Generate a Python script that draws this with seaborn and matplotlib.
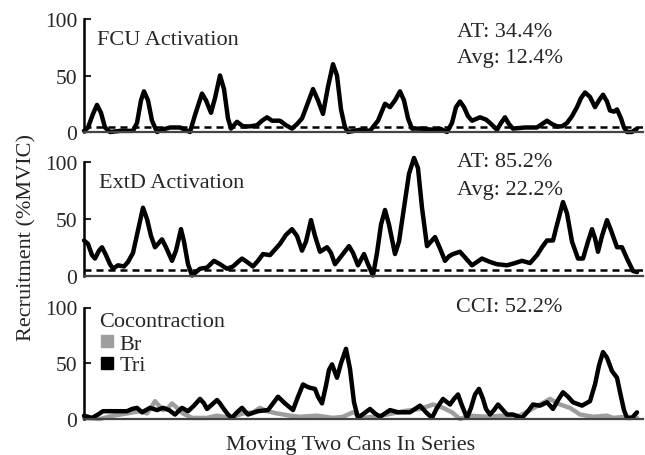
import numpy as np
import pandas as pd
import matplotlib
matplotlib.use("Agg")
import matplotlib.pyplot as plt
from matplotlib.lines import Line2D
import seaborn as sns

# ---- recorded EMG recruitment (%MVIC) over the task, by frame ----
fcu_frame = [84, 88, 93, 97, 101, 105, 110, 120, 133, 137, 141, 144, 148, 152, 157, 162, 170, 180,
             190, 195, 202, 206, 211, 215, 220, 224, 228, 231, 237, 243, 250, 257, 262, 267, 272,
             276, 280, 286, 292, 297, 302, 308, 313, 318, 323, 328, 333, 337, 341, 345, 348, 360,
             370, 378, 385, 390, 395, 400, 404, 408, 412, 420, 433, 440, 447, 452, 456, 460, 464,
             468, 472, 480, 486, 490, 497, 501, 505, 509, 513, 525, 537, 542, 547, 552, 557, 562,
             567, 572, 577, 581, 585, 590, 595, 599, 603, 607, 610, 614, 617, 621, 624, 627, 632, 637]
fcu_value = [1, 4, 16, 24, 17, 4, 0, 1, 1, 8, 28, 36, 28, 10, 0, 2, 4, 4,
             0, 15, 34, 28, 17, 30, 50, 38, 12, 3, 9, 5, 5, 6, 10, 13, 10,
             10, 10, 6, 3, 7, 12, 26, 38, 28, 16, 40, 60, 50, 20, 4, 0, 2,
             1, 10, 25, 22, 28, 36, 28, 12, 3, 3, 2, 3, 0, 8, 22, 27, 22,
             14, 10, 13, 11, 8, 2, 8, 13, 7, 3, 4, 4, 7, 10, 7, 5, 5,
             8, 14, 22, 30, 35, 31, 22, 28, 33, 27, 19, 18, 20, 12, 4, 0, 0, 3]

extd_frame = [84, 88, 92, 95, 99, 102, 106, 110, 113, 118, 124, 128, 133, 138, 143, 147, 151, 155,
              159, 162, 166, 172, 176, 181, 184, 188, 192, 196, 200, 207, 214, 220, 227, 233, 238,
              242, 247, 253, 258, 263, 270, 275, 280, 286, 292, 297, 302, 306, 311, 315, 320, 327,
              331, 335, 342, 349, 353, 358, 364, 368, 373, 377, 381, 385, 389, 395, 399, 404, 409,
              414, 418, 422, 427, 431, 435, 440, 445, 449, 453, 460, 466, 472, 477, 482, 490, 497,
              507, 515, 522, 530, 537, 542, 547, 553, 557, 563, 567, 572, 578, 583, 588, 592, 595,
              598, 602, 607, 611, 617, 622, 627, 633, 637]
extd_value = [31, 28, 18, 15, 22, 25, 18, 10, 6, 9, 8, 12, 20, 40, 60, 50, 35, 25,
              29, 32, 25, 13, 22, 41, 30, 10, 0, 3, 6, 7, 13, 10, 6, 8, 12,
              15, 12, 8, 13, 19, 18, 23, 28, 36, 41, 35, 22, 30, 49, 35, 21, 25,
              20, 10, 18, 26, 20, 9, 19, 10, 0, 20, 45, 58, 45, 19, 30, 60, 90,
              104, 95, 60, 26, 30, 34, 24, 13, 17, 19, 21, 15, 9, 12, 15, 12, 10,
              9, 11, 13, 11, 18, 25, 31, 31, 45, 65, 55, 30, 15, 15, 30, 41, 33,
              21, 35, 49, 40, 25, 25, 15, 4, 3]

tri_frame = [84, 92, 98, 103, 113, 127, 132, 137, 142, 150, 157, 163, 169, 175, 182, 188, 194, 200,
             204, 207, 212, 217, 220, 223, 228, 232, 237, 242, 248, 258, 268, 273, 278, 285, 293,
             298, 303, 307, 310, 315, 318, 322, 326, 329, 332, 337, 341, 346, 350, 354, 358, 364,
             370, 375, 380, 385, 390, 398, 410, 415, 420, 426, 432, 437, 443, 450, 454, 458, 462,
             467, 471, 475, 479, 483, 486, 490, 494, 498, 502, 507, 513, 522, 528, 533, 540, 547,
             553, 558, 563, 568, 573, 582, 590, 595, 599, 603, 607, 612, 617, 621, 624, 627, 632, 637]
tri_value = [3, 1, 4, 7, 7, 7, 9, 10, 6, 10, 8, 10, 8, 4, 10, 7, 12, 18,
             14, 9, 13, 17, 14, 10, 4, 1, 6, 10, 4, 7, 8, 14, 20, 14, 8,
             20, 31, 29, 28, 27, 20, 14, 30, 44, 49, 37, 50, 63, 45, 15, 1, 5,
             9, 5, 2, 5, 8, 6, 6, 9, 12, 6, 1, 10, 18, 13, 18, 22, 12,
             1, 10, 22, 27, 18, 9, 4, 8, 13, 9, 4, 4, 1, 7, 13, 12, 15,
             9, 17, 24, 20, 15, 12, 16, 31, 48, 60, 55, 43, 37, 20, 8, 1, 1, 6]

br_frame = [84, 100, 113, 127, 140, 147, 151, 155, 159, 163, 168, 172, 177, 183, 192, 207, 217, 230,
            243, 253, 260, 267, 277, 290, 300, 317, 333, 343, 353, 363, 373, 387, 403, 420, 433,
            443, 452, 460, 470, 487, 503, 520, 530, 540, 550, 560, 570, 580, 593, 607, 613, 627, 637]
br_value = [1, 0, 3, 5, 7, 5, 10, 16, 12, 8, 10, 14, 10, 5, 1, 1, 3, 1,
            5, 6, 10, 7, 5, 3, 2, 3, 1, 2, 6, 1, 2, 4, 7, 9, 13,
            10, 6, 0, 3, 2, 3, 3, 8, 13, 18, 13, 10, 4, 2, 3, 1, 2, 1]

activation_threshold = 4.5
panel_titles = ["FCU Activation", "ExtD Activation", "Cocontraction"]
panel_stats = [["AT: 34.4%", "Avg: 12.4%"], ["AT: 85.2%", "Avg: 22.2%"], ["CCI: 52.2%"]]
legend_labels = ["Br", "Tri"]
y_ticks = [0, 50, 100]
x_label = "Moving Two Cans In Series"
y_label = "Recruitment (%MVIC)"

sns.set_style("white")
plt.rcParams["font.family"] = ["Liberation Serif", "DejaVu Serif"]

FS = 15.5
FS_TXT = 16
GRAY = "#9e9e9e"
W, H = 645, 456
fig = plt.figure(figsize=(W / 100, H / 100), dpi=100)

# axes boxes in figure pixels: (left, right, top at 100, bottom at 0)
boxes = [(84, 643, 20, 133), (84, 643, 163.5, 276.5), (84, 643, 308.5, 420)]
axes = []
for (l, r, t, b) in boxes:
    ax = fig.add_axes([l / W, 1 - b / H, (r - l) / W, (b - t) / H])
    axes.append(ax)

series = [
    [(fcu_frame, fcu_value, "black")],
    [(extd_frame, extd_value, "black")],
    [(br_frame, br_value, GRAY), (tri_frame, tri_value, "black")],
]

for i, ax in enumerate(axes):
    for frames, vals, col in series[i]:
        df = pd.DataFrame({"frame": frames, "value": vals})
        sns.lineplot(data=df, x="frame", y="value", ax=ax, color=col, lw=3.2,
                     estimator=None, sort=False, clip_on=False,
                     solid_joinstyle="round", solid_capstyle="round")
    if i < 2:
        ax.axhline(activation_threshold, color="black", lw=1.8,
                   linestyle=(0, (2.8, 2.0)), zorder=1)
    ax.set_xlim(84, 643)
    ax.set_ylim(0, 100)
    ax.set_xticks([])
    ax.set_yticks(y_ticks)
    ax.set_yticklabels([str(v) for v in y_ticks], fontsize=FS)
    ax.tick_params(axis="y", direction="in", length=5, width=1.5, pad=5, left=True)
    ax.set_xlabel("")
    ax.set_ylabel("")
    for s in ("top", "right"):
        ax.spines[s].set_visible(False)
    ax.spines["left"].set_linewidth(1.8)
    ax.spines["left"].set_color("black")
    ax.spines["bottom"].set_linewidth(1.6)
    ax.spines["bottom"].set_color("#444444")
    ax.patch.set_alpha(0)

# panel titles and summary statistics
title_pos = [(0.023, 0.78), (0.027, 0.78), (0.027, 0.835)]
stat_pos = [[(0.667, 0.85), (0.667, 0.62)], [(0.667, 0.967), (0.667, 0.72)], [(0.665, 0.967)]]
for i, ax in enumerate(axes):
    ax.text(*title_pos[i], panel_titles[i], transform=ax.transAxes,
            fontsize=FS_TXT, va="baseline", ha="left")
    for txt, (px, py) in zip(panel_stats[i], stat_pos[i]):
        ax.text(px, py, txt, transform=ax.transAxes, fontsize=FS_TXT, va="baseline", ha="left")

handles = [Line2D([], [], marker="s", linestyle="none", color=GRAY, markersize=8),
           Line2D([], [], marker="s", linestyle="none", color="black", markersize=8)]
axes[2].legend(handles, legend_labels, loc="upper left", bbox_to_anchor=(0.03, 0.77),
               frameon=False, fontsize=FS_TXT, handlelength=0.6, handletextpad=0.25,
               labelspacing=0.05, borderaxespad=0, borderpad=0)

fig.text(351 / W, 1 - 450 / H, x_label, fontsize=FS_TXT, ha="center", va="baseline")
fig.text(27 / W, 1 - 238 / H, y_label, fontsize=FS_TXT, ha="center", va="center", rotation=90)

fig.savefig("out.png", dpi=100)
